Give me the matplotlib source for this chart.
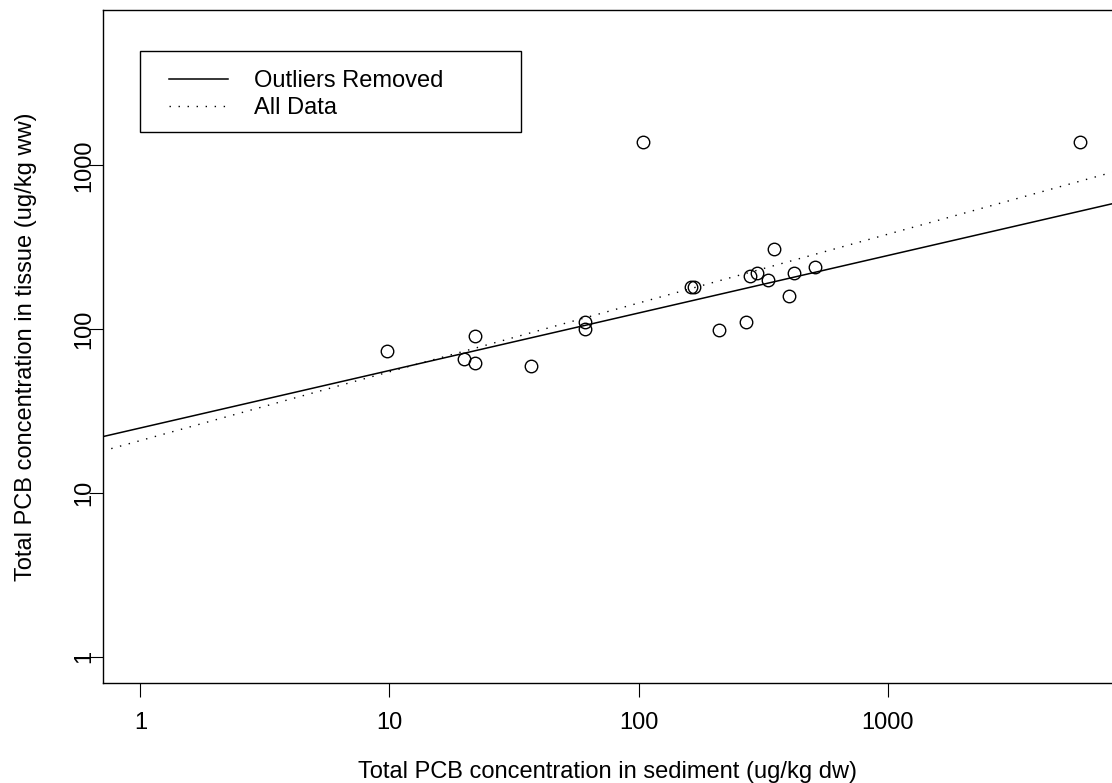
import numpy as np
import matplotlib.pyplot as plt
from matplotlib.patches import Rectangle

plt.rcParams['font.family'] = ['Liberation Sans', 'DejaVu Sans']

# sediment (x) and tissue (y) total PCB, ug/kg
sediment = [9.8, 104, 22, 20, 22, 37, 61, 61, 163, 167,
            210, 270, 281, 300, 351, 330, 400, 421, 511, 5900]
tissue = [74, 1390, 91, 66, 62, 60, 110, 100, 180, 180,
          99, 110, 210, 220, 310, 200, 160, 220, 240, 1400]

# log10(y) = a + b*log10(x)
fit_removed = [1.397, 0.351]
fit_all = [1.320, 0.420]

xlim = (0.705, 7950)
ylim = (0.694, 8900)

fig = plt.figure(figsize=(11.12, 7.83), dpi=100)
ax = fig.add_axes([0.0922, 0.1281, 0.9078, 0.8591])

xs = np.logspace(np.log10(xlim[0]), np.log10(xlim[1]), 50)
ax.plot(xs, 10 ** (fit_removed[0] + fit_removed[1] * np.log10(xs)),
        color='black', lw=1.1, label='Outliers Removed')
ax.plot(xs, 10 ** (fit_all[0] + fit_all[1] * np.log10(xs)),
        color='black', lw=1.0, dashes=(1, 5.5), label='All Data')
ax.plot(sediment, tissue, 'o', mfc='none', mec='black', ms=9, mew=1.0,
        linestyle='none')

ax.set_xscale('log')
ax.set_yscale('log')
ax.set_xlim(xlim)
ax.set_ylim(ylim)
ax.minorticks_off()

ticks = [1, 10, 100, 1000]
ax.set_xticks(ticks)
ax.set_xticklabels(['1', '10', '100', '1000'], fontsize=17)
ax.set_yticks(ticks)
ax.set_yticklabels(['1', '10', '100', '1000'], fontsize=17, rotation=90,
                   va='center')
ax.tick_params(axis='x', length=10, width=0.8, pad=11.2)
ax.tick_params(axis='y', length=10, width=0.8, pad=-4.5)

for s in ['left', 'bottom', 'top']:
    ax.spines[s].set_linewidth(1.0)
ax.spines['right'].set_visible(False)

ax.set_xlabel('Total PCB concentration in sediment (ug/kg dw)', fontsize=17,
              labelpad=19.5)
ax.set_ylabel('Total PCB concentration in tissue (ug/kg ww)', fontsize=17,
              labelpad=26)

# legend box
ax.add_patch(Rectangle((0.0374, 0.8193), 0.3771, 0.1197, transform=ax.transAxes,
                       fill=False, edgecolor='black', lw=1.0, zorder=4))
leg = ax.legend(loc='upper left', bbox_to_anchor=(0.0659, 0.911),
                fontsize=17, frameon=False, handlelength=2.5,
                handletextpad=1.1, borderpad=0, labelspacing=0.22,
                borderaxespad=0)

plt.savefig('out.png', dpi=100)
